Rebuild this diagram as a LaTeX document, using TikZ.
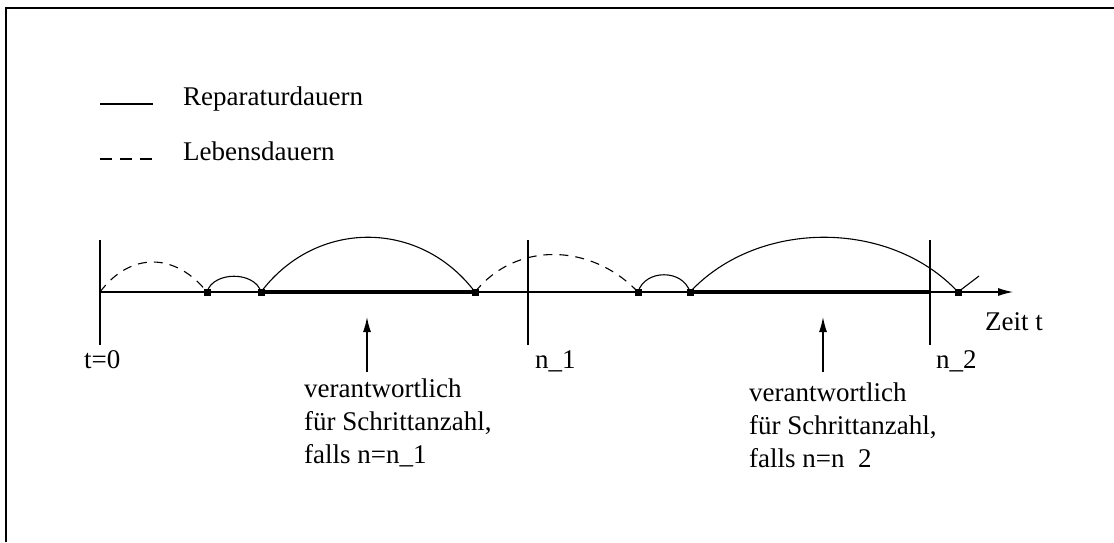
\documentclass[tikz,border=0pt]{standalone}
\usepackage{fontspec}
\setmainfont{Liberation Serif}
\usetikzlibrary{arrows.meta,positioning}

\begin{document}
\begin{tikzpicture}[x=1pt,y=-1pt,
  every node/.style={font=\fontsize{27}{33}\selectfont,inner sep=0pt},
  ev/.style={draw,fill,minimum width=6pt,minimum height=6pt},
  life/.style={line width=1.1pt,dash pattern=on 9pt off 7pt},
  rep/.style={line width=1.1pt},
  busy/.style={line width=4.5pt},
  nline/.style={line width=1.3pt},
  >={Latex[length=15pt,width=8pt]}]
\useasboundingbox (0,0) rectangle (1114,542);
% frame (only top and left visible)
\draw[line width=2pt] (6,542) -- (6,8) -- (1114,8);

% legend
\coordinate (leg1a) at (100,104); \coordinate (leg1b) at (153,104);
\coordinate (leg2a) at (100,159); \coordinate (leg2b) at (153,159);
\draw[rep] (leg1a) -- (leg1b);
\draw[rep,dash pattern=on 12pt off 8pt] (leg2a) -- (leg2b);
\node[anchor=base west] (reptext) at (183,105) {Reparaturdauern};
\node[anchor=base west] (lebtext) at (183,160) {Lebensdauern};

% time axis
\coordinate (t0) at (100,292);
\coordinate (tend) at (1013,292);
\draw[rep,->] (t0) -- (tend);

% n markers
\coordinate (v0top) at (100,240); \coordinate (v0bot) at (100,345);
\coordinate (v1top) at (528,240); \coordinate (v1bot) at (528,345);
\coordinate (v2top) at (930,240); \coordinate (v2bot) at (930,345);
\coordinate (v2ax) at (930,292);
\draw[nline] (v0top) -- (v0bot);
\draw[nline] (v1top) -- (v1bot);
\draw[nline] (v2top) -- (v2bot);

% events on the axis
\node[ev] (e1) at (207,292) {};
\node[ev] (e2) at (261,292) {};
\node[ev] (e3) at (475,292) {};
\node[ev] (e4) at (638,292) {};
\node[ev] (e5) at (690,292) {};
\node[ev] (e6) at (958,292) {};
\coordinate (etail) at (979,276);

% busy periods
\draw[busy] (e2) -- (e3);
\draw[busy] (e5) -- (v2ax);

% life times (dashed) and repair times (solid)
\draw[life] (t0) .. controls +(30,-40) and +(-32,-40) .. (e1.center);
\draw[rep] (e1.center) .. controls +(6,-21) and +(-6,-21) .. (e2.center);
\draw[rep] (e2.center) .. controls +(55,-73) and +(-55,-73) .. (e3.center);
\draw[life] (e3.center) .. controls +(40,-50) and +(-48,-50) .. (e4.center);
\draw[rep] (e4.center) .. controls +(7,-23) and +(-7,-23) .. (e5.center);
\draw[rep] (e5.center) .. controls +(68,-73) and +(-68,-73) .. (e6.center);
\draw[rep] (e6.center) -- (etail);

% labels
\node[anchor=base west] (lt0) at (84,368) {t=0};
\node[anchor=base west] (ln1) at (535,368) {n\_1};
\node[anchor=base west] (ln2) at (936,368) {n\_2};
\node[anchor=base west] (zeit) at (985,330) {Zeit t};

% pointers
\coordinate (p1bot) at (367,372); \coordinate (p1tip) at (367,317);
\coordinate (p2bot) at (823,372); \coordinate (p2tip) at (823,317);
\draw[nline,->] (p1bot) -- (p1tip);
\draw[nline,->] (p2bot) -- (p2tip);
% base of a multi-line node = baseline of its last line
\node[anchor=base west,align=left] (why1) at (304,463)
  {verantwortlich\\für Schrittanzahl,\\falls n=n\_1};
\node[anchor=base west,align=left] (why2) at (749,467)
  {verantwortlich\\für Schrittanzahl,\\falls n=n\phantom{\_}2};
\end{tikzpicture}
\end{document}
